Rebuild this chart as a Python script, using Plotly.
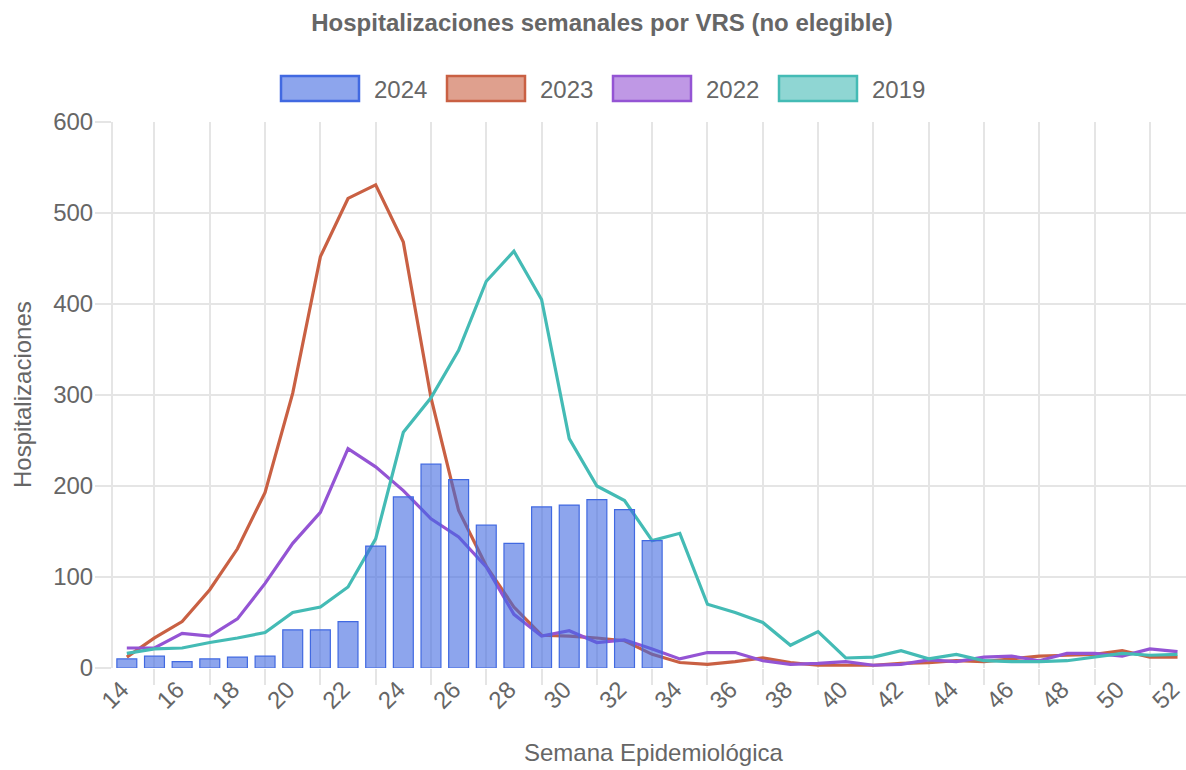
import plotly.graph_objects as go

# ---------------- data ----------------
weeks = list(range(14, 53))
weeks_2024 = list(range(14, 34))
tick_weeks = list(range(14, 53, 2))
tick_labels = [str(w) for w in tick_weeks]
grid_weeks = list(range(15, 52, 2))

hosp_2024 = [10, 13, 7, 10, 12, 13, 42, 42, 51, 134, 188, 224, 207, 157, 137,
             177, 179, 185, 174, 140]
hosp_2023 = [12, 33, 51, 86, 131, 193, 302, 452, 516, 531, 468, 297, 173, 112,
             67, 36, 35, 33, 30, 15, 6, 4, 7, 11, 6, 3, 3, 3, 5, 6, 8, 7, 10,
             13, 14, 15, 19, 12, 12]
hosp_2022 = [22, 22, 38, 35, 54, 93, 137, 171, 241, 221, 195, 164, 144, 111,
             59, 35, 41, 28, 31, 21, 10, 17, 17, 8, 4, 5, 7, 3, 4, 9, 7, 12, 13,
             8, 16, 16, 13, 21, 18]
hosp_2019 = [16, 21, 22, 28, 33, 39, 61, 67, 89, 142, 259, 297, 349, 425, 458,
             405, 252, 200, 184, 140, 148, 70, 61, 50, 25, 40, 11, 12, 19, 10,
             15, 8, 7, 7, 8, 12, 16, 14, 15]

series_names = ["2024", "2023", "2022", "2019"]
series_rgb = [(65, 105, 225), (201, 96, 67), (148, 84, 212), (68, 187, 181)]

title_text = "Hospitalizaciones semanales por VRS (no elegible)"
x_title = "Semana Epidemiológica"
y_title = "Hospitalizaciones"

# ---------------- style ----------------
W, H = 1186, 770
L, R, T, B = 113, 0, 122, 102
FONT = "Liberation Sans, Arial, Helvetica, sans-serif"
TXT = "#666666"
GRID = "#e5e5e5"


def rgba(c, a):
    return f"rgba({c[0]},{c[1]},{c[2]},{a})"


pw = W - L - R
ph = H - T - B


def px_to_paper_x(px):
    return (px - L) / pw


def px_to_paper_y(py):
    return (H - B - py) / ph


fig = go.Figure()

line_data = [hosp_2023, hosp_2022, hosp_2019]
for name, vals, col in zip(series_names[1:], line_data, series_rgb[1:]):
    fig.add_trace(go.Scatter(
        x=weeks, y=vals, name=name, mode="lines",
        line=dict(color=rgba(col, 1), width=3.2),
        showlegend=False, xaxis="x", yaxis="y", hoverinfo="skip",
    ))

fig.add_trace(go.Bar(
    x=weeks_2024, y=hosp_2024, name="2024", width=0.72,
    marker=dict(color=rgba(series_rgb[0], 0.6),
                line=dict(color=rgba(series_rgb[0], 1), width=1.2)),
    showlegend=False, xaxis="x2", yaxis="y2", hoverinfo="skip",
))

x_range = [13.5, 13.5 + pw / 27.65]
y_range = [0, 600]

fig.update_layout(
    width=W, height=H,
    margin=dict(l=L, r=R, t=T, b=B, autoexpand=False),
    paper_bgcolor="white", plot_bgcolor="white",
    font=dict(family=FONT, size=24, color=TXT),
    title=dict(text=title_text, x=602 / W, xref="container", xanchor="center",
               y=1 - 23 / H, yref="container", yanchor="middle",
               font=dict(family=FONT, size=24, color=TXT, weight="bold")),
    xaxis=dict(
        range=x_range, tickmode="array", tickvals=tick_weeks, ticktext=tick_labels,
        tickangle=-45, showgrid=False, zeroline=False, automargin=False,
        ticks="outside", ticklen=1, tickcolor="rgba(0,0,0,0)",
        ticklabelstandoff=-4, ticklabelshift=-5, ticklabeloverflow="allow",
        tickfont=dict(family=FONT, size=24, color=TXT),
        showline=False,
        minor=dict(tickmode="array", tickvals=grid_weeks, showgrid=True,
                   gridcolor=GRID, gridwidth=2, ticks="outside", ticklen=16,
                   tickcolor=GRID, tickwidth=2),
        fixedrange=True,
    ),
    yaxis=dict(
        range=y_range, tickmode="array", tickvals=[0, 100, 200, 300, 400, 500, 600],
        showgrid=True, gridcolor=GRID, gridwidth=2, zeroline=False, automargin=False,
        ticks="outside", ticklen=16, tickcolor=GRID, tickwidth=2,
        showline=True, linecolor=GRID, linewidth=2,
        tickfont=dict(family=FONT, size=24, color=TXT),
        ticklabelstandoff=-3, fixedrange=True,
    ),
    xaxis2=dict(range=x_range, overlaying="x", visible=False, fixedrange=True),
    yaxis2=dict(range=y_range, overlaying="y", visible=False, fixedrange=True),
    bargap=0,
    hovermode=False,
)

# axis titles
fig.add_annotation(text=x_title, xref="paper", yref="paper",
                   x=px_to_paper_x(653), y=px_to_paper_y(752),
                   xanchor="center", yanchor="middle", showarrow=False,
                   font=dict(family=FONT, size=24, color=TXT))
fig.add_annotation(text=y_title, xref="paper", yref="paper",
                   x=px_to_paper_x(22), y=px_to_paper_y(395), textangle=-90,
                   xanchor="center", yanchor="middle", showarrow=False,
                   font=dict(family=FONT, size=24, color=TXT))

# legend (Chart.js style boxes)
box_w, box_h = 80, 25
item_widths = [80 + 12 + 54 for _ in series_names]
gap = 20
total = sum(item_widths) + gap * (len(series_names) - 1)
x0 = 602 - total / 2
box_top, box_bot = 76, 101
for name, col, iw in zip(series_names, series_rgb, item_widths):
    fig.add_shape(type="rect", xref="paper", yref="paper",
                  x0=px_to_paper_x(x0 + 1), x1=px_to_paper_x(x0 + box_w - 1),
                  y0=px_to_paper_y(box_bot), y1=px_to_paper_y(box_top),
                  fillcolor=rgba(col, 0.6), line=dict(color=rgba(col, 1), width=2.5))
    fig.add_annotation(text=name, xref="paper", yref="paper",
                       x=px_to_paper_x(x0 + box_w + 12), y=px_to_paper_y(89),
                       xanchor="left", yanchor="middle", showarrow=False,
                       font=dict(family=FONT, size=24, color=TXT))
    x0 += iw + gap

fig.write_html("out.html",
               config={"displayModeBar": False, "staticPlot": True},
               post_script="document.body.style.margin='0';"
                           "document.body.style.padding='0';")
